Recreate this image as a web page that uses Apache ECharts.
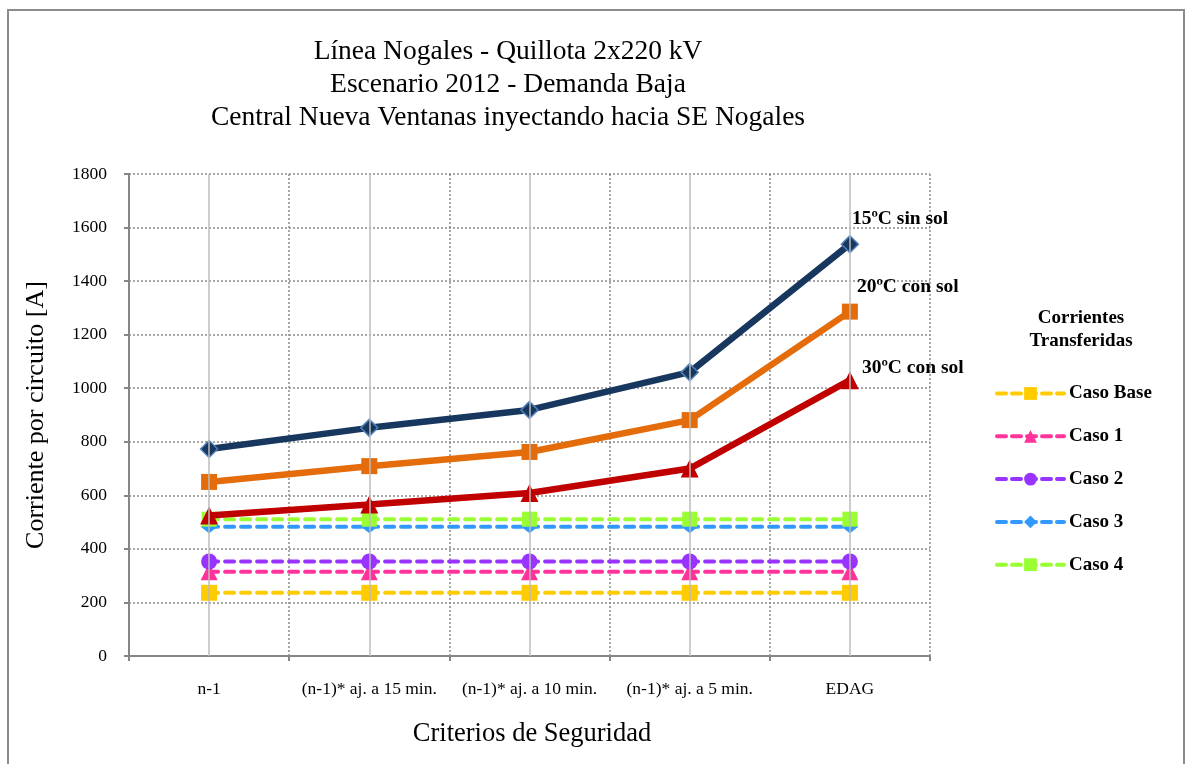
<!DOCTYPE html>
<html><head><meta charset="utf-8">
<script src="https://cdn.jsdelivr.net/npm/echarts@6/dist/echarts.min.js"></script>
<style>html,body{margin:0;padding:0;background:#fff}#c{width:1186px;height:764px}</style>
</head><body><div id="c"></div>
<script>
const categories = ['n-1', '(n-1)* aj. a 15 min.', '(n-1)* aj. a 10 min.', '(n-1)* aj. a 5 min.', 'EDAG'];
const yTicks = [0, 200, 400, 600, 800, 1000, 1200, 1400, 1600, 1800];
const t15SinSol = [773, 852, 919, 1060, 1538];
const t20ConSol = [650, 709, 762, 881, 1286];
const t30ConSol = [525, 566, 609, 700, 1030];
const casoBase = [236, 236, 236, 236, 236];
const caso1 = [315, 315, 315, 315, 315];
const caso2 = [353, 353, 353, 353, 353];
const caso3 = [483, 483, 483, 483, 483];
const caso4 = [511, 511, 511, 511, 511];

const serif = "'Liberation Serif', 'Times New Roman', serif";
const chart = echarts.init(document.getElementById('c'));

function solid(name, data, color, symbol, size, label, off, border) {
  return {
    name, type: 'line', data, symbol, symbolSize: size, z: 4,
    lineStyle: { color, width: 6.5 },
    itemStyle: { color, borderColor: border || color, borderWidth: border ? 1.5 : 0 },
    label: {
      show: true, position: 'inside', align: 'left', verticalAlign: 'middle', offset: off,
      fontFamily: serif, fontWeight: 'bold', fontSize: 19.5, color: '#000',
      formatter: p => p.dataIndex === data.length - 1 ? label : ''
    }
  };
}
function dashed(name, data, color, symbol, size) {
  return {
    name, type: 'line', data, symbol, symbolSize: size, z: 3,
    lineStyle: { color, width: 4, type: [9, 7], cap: 'round' },
    itemStyle: { color }
  };
}

chart.setOption({
  animation: false,
  backgroundColor: '#fff',
  title: [
    { text: 'Línea Nogales - Quillota 2x220 kV\nEscenario 2012 - Demanda Baja\nCentral Nueva Ventanas inyectando hacia SE Nogales',
      left: 503, top: 30, textAlign: 'center',
      textStyle: { fontFamily: serif, fontWeight: 'normal', fontSize: 27.5, lineHeight: 33, color: '#000' } },
    { text: 'Corrientes\nTransferidas', left: 1076, top: 302, textAlign: 'center',
      textStyle: { fontFamily: serif, fontWeight: 'bold', fontSize: 19, lineHeight: 23, color: '#000' } },
    { text: 'Criterios de Seguridad', left: 527, top: 716, textAlign: 'center',
      textStyle: { fontFamily: serif, fontWeight: 'normal', fontSize: 26.5, color: '#000' } }
  ],
  graphic: [
    { type: 'rect', shape: { x: 8, y: 10, width: 1176, height: 770 }, style: { fill: 'none', stroke: '#8c8c8c', lineWidth: 2 }, silent: true },
    { type: 'text', x: 36, y: 415, rotation: Math.PI / 2,
      style: { text: 'Corriente por circuito [A]', font: "26px 'Liberation Serif'", fill: '#000', align: 'center', verticalAlign: 'middle' } }
  ],
  grid: { left: 129, right: 256, top: 174, bottom: 108, containLabel: false },
  legend: {
    data: ['Caso Base', 'Caso 1', 'Caso 2', 'Caso 3', 'Caso 4'],
    orient: 'vertical', left: 990, top: 379, itemWidth: 67, itemHeight: 16, itemGap: 23.8,
    lineStyle: { width: 4, type: [9, 6], cap: 'round' },
    textStyle: { fontFamily: serif, fontWeight: 'bold', fontSize: 19, color: '#000', padding: [0, 0, 0, 0] }
  },
  xAxis: {
    type: 'category', data: categories, boundaryGap: true,
    axisLine: { lineStyle: { color: '#868686', width: 2 } },
    axisTick: { show: true, length: 5, lineStyle: { color: '#868686', width: 2 } },
    axisLabel: { fontFamily: serif, fontSize: 17.5, color: '#000', margin: 24, interval: 0 },
    splitLine: { show: true, lineStyle: { color: '#8a8a8a', width: 1.5, type: [2, 2] } }
  },
  yAxis: {
    type: 'value', min: yTicks[0], max: yTicks[yTicks.length - 1], interval: 200,
    axisLine: { show: true, lineStyle: { color: '#868686', width: 2 } },
    axisTick: { show: true, length: 5, lineStyle: { color: '#868686', width: 2 } },
    axisLabel: { fontFamily: serif, fontSize: 17.5, color: '#000', margin: 22, formatter: v => String(v) },
    splitLine: { show: true, lineStyle: { color: '#8a8a8a', width: 1.5, type: [2, 2] } }
  },
  series: [
    { name: 'grid', type: 'line', data: [], z: 1, silent: true,
      markLine: { silent: true, symbol: ['none', 'none'], label: { show: false },
        lineStyle: { color: '#bdbdbd', width: 1.5, type: 'solid' },
        data: categories.map(c => ({ xAxis: c })) } },
    dashed('Caso Base', casoBase, '#FFCC00', 'rect', 16),
    dashed('Caso 1', caso1, '#FF3399', 'triangle', 17),
    dashed('Caso 2', caso2, '#9933FF', 'circle', 16),
    dashed('Caso 3', caso3, '#3399FF', 'diamond', [17, 13]),
    dashed('Caso 4', caso4, '#99FF33', 'rect', 15),
    solid('15ºC sin sol', t15SinSol, '#17375E', 'diamond', 17, '15ºC sin sol', [2, -25], '#4F81BD'),
    solid('20ºC con sol', t20ConSol, '#E46C0A', 'rect', 16, '20ºC con sol', [7, -25]),
    solid('30ºC con sol', t30ConSol, '#C00000', 'triangle', 18, '30ºC con sol', [12, -12])
  ]
});
</script></body></html>
